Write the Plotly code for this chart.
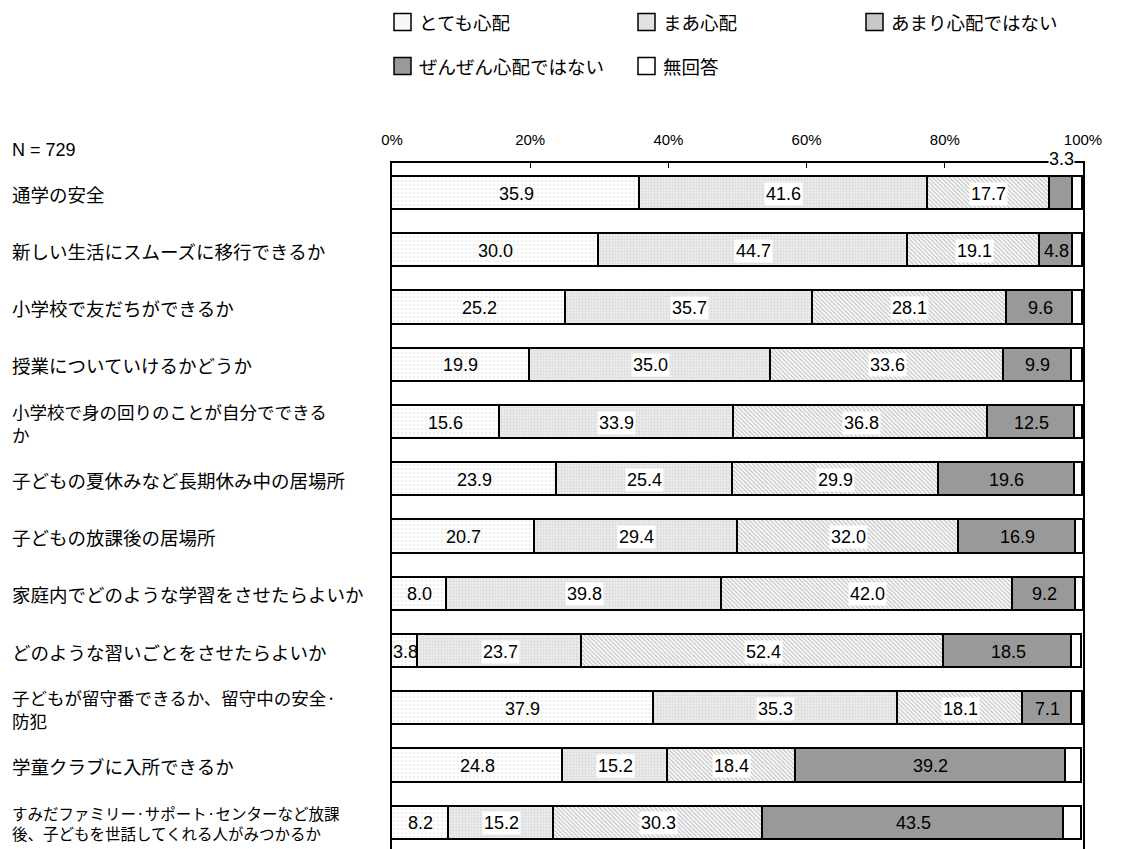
import plotly.graph_objects as go

# ---- data -------------------------------------------------------------
categories = [
    "通学の安全",
    "新しい生活にスムーズに移行できるか",
    "小学校で友だちができるか",
    "授業についていけるかどうか",
    "小学校で身の回りのことが自分でできる<br>か",
    "子どもの夏休みなど長期休み中の居場所",
    "子どもの放課後の居場所",
    "家庭内でどのような学習をさせたらよいか",
    "どのような習いごとをさせたらよいか",
    "子どもが留守番できるか、留守中の安全·<br>防犯",
    "学童クラブに入所できるか",
    "すみだファミリー·サポート·センターなど放課<br>後、子どもを世話してくれる人がみつかるか",
]
series_names = ["とても心配", "まあ心配", "あまり心配ではない", "ぜんぜん心配ではない", "無回答"]
very_worried = [35.9, 30.0, 25.2, 19.9, 15.6, 23.9, 20.7, 8.0, 3.8, 37.9, 24.8, 8.2]
somewhat_worried = [41.6, 44.7, 35.7, 35.0, 33.9, 25.4, 29.4, 39.8, 23.7, 35.3, 15.2, 15.2]
not_very_worried = [17.7, 19.1, 28.1, 33.6, 36.8, 29.9, 32.0, 42.0, 52.4, 18.1, 18.4, 30.3]
not_worried_at_all = [3.3, 4.8, 9.6, 9.9, 12.5, 19.6, 16.9, 9.2, 18.5, 7.1, 39.2, 43.5]
no_answer = [1.5, 1.4, 1.4, 1.6, 1.2, 1.2, 1.1, 1.1, 1.5, 1.6, 2.3, 2.7]
tick_values = [0, 20, 40, 60, 80, 100]
tick_labels = ["0%", "20%", "40%", "60%", "80%", "100%"]
sample_label = "N = 729"

series_values = [very_worried, somewhat_worried, not_very_worried, not_worried_at_all, no_answer]

# ---- page geometry (pixels) -------------------------------------------
W, H = 1125, 849
ML, MR, MT, MB = 392, 42, 163, 0
PW, PH = W - ML - MR, H - MT - MB


def px_x(p):
    return (p - ML) / PW


def px_y(p):
    return 1 - (p - MT) / PH


JP = "Noto Sans CJK JP"
NUM = "Liberation Sans, Arial, sans-serif"

# ---- series styles ----------------------------------------------------
patterns = [
    dict(shape=".", bgcolor="white", fgcolor="#dedede", size=4, solidity=0.3),
    dict(shape="+", bgcolor="#ececec", fgcolor="#c6c6c6", size=3, solidity=0.35),
    dict(shape="\\", bgcolor="white", fgcolor="#8a8a8a", size=3, solidity=0.45),
    None,
    None,
]
solid_colors = ["white", "#ececec", "#d4d4d4", "#999999", "white"]
swatch_colors = ["#f8f8f8", "#e2e2e2", "#c8c8c8", "#999999", "white"]
label_bg = [None, "white", "white", None, None]

rows = list(range(len(categories)))

fig = go.Figure()
for i, (name, vals) in enumerate(zip(series_names, series_values)):
    marker = dict(color=solid_colors[i], line=dict(color="black", width=1.6))
    if patterns[i] is not None:
        marker["pattern"] = patterns[i]
    fig.add_trace(go.Bar(
        name=name, x=vals, y=rows, orientation="h", width=0.58,
        marker=marker, hoverinfo="skip", showlegend=False,
    ))

annotations = []

# value labels on / beside each segment
for r in rows:
    start = 0.0
    for i, vals in enumerate(series_values):
        v = vals[r]
        txt = f"{v:.1f}"
        if i == len(series_values) - 1:
            annotations.append(dict(
                x=101.4, y=r, xref="x", yref="y", text=txt, showarrow=False,
                xanchor="left", yanchor="middle",
                font=dict(family=NUM, size=18, color="black"),
            ))
        elif v < 3.5:
            annotations.append(dict(
                x=start + v / 2, y=r, xref="x", yref="y", text=txt, showarrow=False,
                xanchor="center", yanchor="middle", yshift=35, bgcolor="white",
                borderpad=0, font=dict(family=NUM, size=18, color="black"),
            ))
        else:
            ann = dict(
                x=start + v / 2, y=r, xref="x", yref="y", text=txt, showarrow=False,
                xanchor="center", yanchor="middle", borderpad=1,
                font=dict(family=NUM, size=18, color="black"),
            )
            if label_bg[i]:
                ann["bgcolor"] = label_bg[i]
            annotations.append(ann)
        start += v

# row labels, left aligned
for r, cat in enumerate(categories):
    lines = cat.split("<br>")
    longest = max(len(s) for s in lines)
    size = 15.5 if longest > 20 else (17.5 if len(lines) > 1 else 18.5)
    annotations.append(dict(
        x=px_x(10), y=r, xref="paper", yref="y", text=cat, showarrow=False,
        xanchor="left", yanchor="middle", align="left",
        font=dict(family=JP, size=size, color="black"),
    ))

annotations.append(dict(
    x=px_x(10), y=px_y(150), xref="paper", yref="paper", text=sample_label,
    showarrow=False, xanchor="left", yanchor="middle",
    font=dict(family=NUM, size=18, color="black"),
))

# legend drawn as swatches + text
legend_slots = [(394, 22), (638, 22), (866, 22), (394, 66), (638, 66)]
shapes = []
SW = 17
for i, name in enumerate(series_names):
    lx, cy = legend_slots[i]
    shapes.append(dict(
        type="rect", xref="paper", yref="paper",
        x0=px_x(lx), x1=px_x(lx + SW), y0=px_y(cy + SW / 2), y1=px_y(cy - SW / 2),
        fillcolor=swatch_colors[i], line=dict(color="black", width=1.5), layer="above",
    ))
    annotations.append(dict(
        x=px_x(lx + SW + 6), y=px_y(cy), xref="paper", yref="paper", text=name,
        showarrow=False, xanchor="left", yanchor="middle",
        font=dict(family=JP, size=18.5, color="black"),
    ))

fig.update_layout(
    width=W, height=H,
    margin=dict(l=ML, r=MR, t=MT, b=MB, pad=0),
    barmode="stack",
    bargap=0,
    paper_bgcolor="white", plot_bgcolor="white",
    showlegend=False,
    annotations=annotations,
    shapes=shapes,
    xaxis=dict(
        range=[0, 100], side="top", tickmode="array",
        tickvals=tick_values, ticktext=tick_labels,
        ticks="inside", ticklen=5, tickwidth=1, tickcolor="black",
        showline=True, linecolor="black", linewidth=1.5,
        showgrid=False, zeroline=False, ticklabelstandoff=10,
        tickfont=dict(family=NUM, size=15, color="black"),
        fixedrange=True,
    ),
    yaxis=dict(
        range=[11.449, -0.533], showticklabels=False, ticks="",
        showline=True, mirror=True, linecolor="black", linewidth=1.5,
        showgrid=False, zeroline=False, fixedrange=True,
    ),
)

fig.write_html("out.html")
